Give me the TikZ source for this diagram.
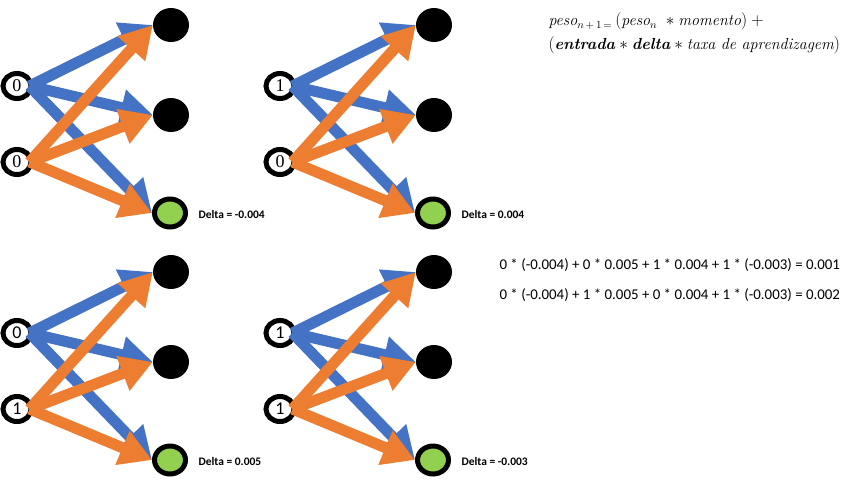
\documentclass[tikz,border=0pt]{standalone}
\usepackage{fontspec}
\newfontfamily\calibri{Carlito}
\newfontfamily\cambria{Liberation Serif}
\usetikzlibrary{arrows.meta,shapes.geometric}
\definecolor{nnblue}{HTML}{4472C4}
\definecolor{nnorange}{HTML}{ED7D31}
\definecolor{nngreen}{HTML}{92D050}
\tikzset{
  innode/.style={ellipse, draw=black, line width=5pt, fill=white, minimum width=28pt, minimum height=25pt, inner sep=0pt},
  outnode/.style={ellipse, fill=black, minimum width=36pt, minimum height=34pt, inner sep=0pt},
  greennode/.style={ellipse, draw=black, fill=nngreen, line width=5pt, minimum width=31pt, minimum height=28pt, inner sep=0pt},
  conn/.style={line width=11pt, -{Triangle[length=32pt,width=35pt]}},
  blueconn/.style={conn, draw=nnblue},
  orangeconn/.style={conn, draw=nnorange},
  deltalabel/.style={anchor=west, font=\calibri\bfseries\fontsize{11.5}{13}\selectfont},
  eqlabel/.style={anchor=west, font=\calibri\fontsize{14.9}{17}\selectfont},
  formula/.style={anchor=west, font=\fontsize{16}{18}\selectfont}
}
\newcommand\nnpanel[7]{%
\begin{scope}[shift={(#2,#3)}]
  \node[innode, font=#7] (#1a) at (17,86) {#4};
  \node[innode, font=#7] (#1b) at (17,162) {#5};
  \node[outnode] (#1t) at (171,25) {};
  \node[outnode] (#1m) at (171,115) {};
  \node[greennode] (#1g) at (170,213) {};
  \node[deltalabel] (#1d) at (195,214) {Delta = #6};
  \draw[blueconn] ([xshift=-4pt]#1a.east) -- (#1t.west);
  \draw[blueconn] ([xshift=-4pt]#1a.east) -- (#1m.west);
  \draw[blueconn] ([xshift=-4pt]#1a.east) -- (#1g.west);
  \draw[orangeconn] ([xshift=-4pt]#1b.east) -- (#1t.west);
  \draw[orangeconn] ([xshift=-4pt]#1b.east) -- (#1m.west);
  \draw[orangeconn] ([xshift=-4pt]#1b.east) -- (#1g.west);
\end{scope}}
\begin{document}
\begin{tikzpicture}[x=1pt,y=-1pt]
\useasboundingbox (0,0) rectangle (845,483);
\nnpanel{pa}{0}{0}{0}{0}{-0.004}{\cambria\fontsize{18}{18}\selectfont}
\nnpanel{pb}{263}{0}{1}{0}{0.004}{\cambria\fontsize{18}{18}\selectfont}
\nnpanel{pc}{0}{247}{0}{1}{0.005}{\calibri\fontsize{18}{18}\selectfont}
\nnpanel{pd}{263}{247}{1}{1}{-0.003}{\calibri\fontsize{18}{18}\selectfont}
\node[formula] (f1) at (545,21) {$\textit{peso}_{n\,+\,1\,=}\,(\textit{peso}_{n}\;\ast\textit{momento})+{}$};
\node[formula] (f2) at (545,45) {$(\textbf{\textit{entrada}}\ast\textbf{\textit{delta}}\ast\textit{taxa de aprendizagem})$};
\node[eqlabel] (e1) at (496,265) {0 * (-0.004) + 0 * 0.005 + 1 * 0.004 + 1 * (-0.003) = 0.001};
\node[eqlabel] (e2) at (496,295) {0 * (-0.004) + 1 * 0.005 + 0 * 0.004 + 1 * (-0.003) = 0.002};
\end{tikzpicture}
\end{document}
